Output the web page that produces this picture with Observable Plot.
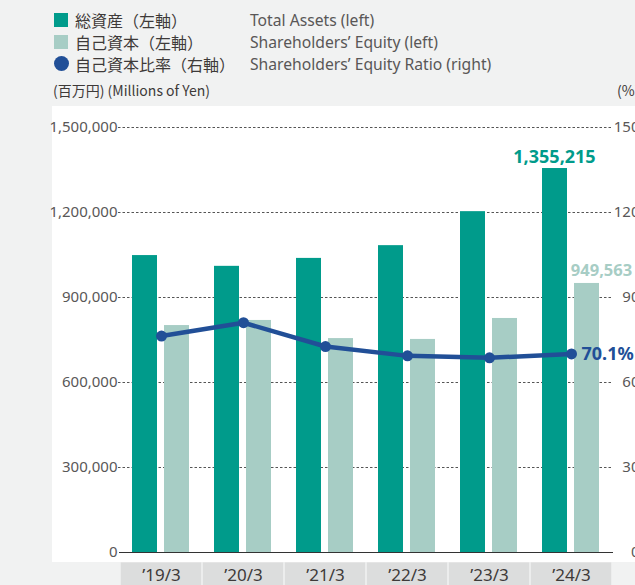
<!DOCTYPE html>
<html><head><meta charset="utf-8">
<script src="https://cdn.jsdelivr.net/npm/d3@7"></script>
<script src="https://cdn.jsdelivr.net/npm/@observablehq/plot@0.6"></script>
<style>
html,body{margin:0;padding:0;background:#f1f2f2;width:635px;height:585px;overflow:hidden;}
#root{position:relative;width:635px;height:585px;font-family:"Noto Sans","Noto Sans CJK JP",sans-serif;}
.panel{position:absolute;left:52px;top:106px;width:583px;height:456px;background:#fff;}
.leg{position:absolute;left:54px;width:560px;height:22px;line-height:22px;font-size:16px;color:#3e3a39;white-space:nowrap;}
.sw{position:absolute;left:0;top:4px;width:14px;height:14px;}
.jp{position:absolute;left:21px;top:0;font-family:"Noto Sans CJK JP",sans-serif;}
.en{position:absolute;left:196px;top:0;color:#595757;font-family:"Noto Sans",sans-serif;font-size:15.7px;}
.unit{position:absolute;top:79px;height:22px;line-height:22px;font-size:14px;color:#3e3a39;white-space:nowrap;font-family:"Noto Sans CJK JP",sans-serif;}
#chart{position:absolute;left:0;top:106px;}
</style>
</head><body>
<div id="root">
  <div class="panel"></div>
  <div class="leg" style="top:9px"><div class="sw" style="background:#009b8b"></div><span class="jp">総資産（左軸）</span><span class="en">Total Assets (left)</span></div>
  <div class="leg" style="top:31px"><div class="sw" style="background:#a7cdc5"></div><span class="jp">自己資本（左軸）</span><span class="en">Shareholders’ Equity (left)</span></div>
  <div class="leg" style="top:53px"><div class="sw" style="background:#214f97;border-radius:50%;width:15px;height:15px;top:3px"></div><span class="jp">自己資本比率（右軸）</span><span class="en">Shareholders’ Equity Ratio (right)</span></div>
  <div class="unit" style="left:53px">(百万円) (Millions of Yen)</div>
  <div class="unit" style="left:617px">(%)</div>
  <div id="chart"></div>
</div>
<script>
const years = ["’19/3","’20/3","’21/3","’22/3","’23/3","’24/3"];
const totalAssets = [1048000, 1010000, 1038000, 1083000, 1203000, 1355215];
const equity = [801000, 819000, 755000, 752000, 826000, 949563];
const equityRatio = [76.4, 81.1, 72.7, 69.4, 68.7, 70.1];
const leftTicks = [0, 300000, 600000, 900000, 1200000, 1500000];
const rightTicks = [0, 30, 60, 90, 120, 150];

const data = years.map((year, i) => ({year, assets: totalAssets[i], equity: equity[i], ratio: equityRatio[i]}));
const last = data[data.length - 1];
const fmt = d3.format(",");
const toLeft = r => r * 10000; // 150% on right axis = 1,500,000 on left axis

const plot = Plot.plot({
  width: 635, height: 479,
  marginLeft: 119, marginRight: 22, marginTop: 21, marginBottom: 33,
  style: {background: "transparent", fontFamily: "'Noto Sans', sans-serif", overflow: "visible"},
  x: {domain: years, padding: 0, label: null},
  y: {domain: [0, 1500000], label: null},
  marks: [
    Plot.barY(years, {x: d => d, y1: -36700, y2: -200000, fill: "#dcdddd", insetLeft: 0.8, insetRight: 0.8}),
    Plot.ruleY(leftTicks.slice(1), {stroke: "#555", strokeWidth: 1, strokeDasharray: "2.5,2", insetLeft: -1}),
    Plot.barY(data, {x: "year", y: "assets", fill: "#009b8b", insetLeft: 12, insetRight: 45}),
    Plot.barY(data, {x: "year", y: "equity", fill: "#a7cdc5", insetLeft: 44, insetRight: 13}),
    Plot.ruleY([0], {stroke: "#333", strokeWidth: 1.2}),
    Plot.lineY(data, {x: "year", y: d => toLeft(d.ratio), stroke: "#214f97", strokeWidth: 4.5}),
    Plot.dot(data, {x: "year", y: d => toLeft(d.ratio), r: 5.5, fill: "#214f97"}),
    Plot.axisY({anchor: "left", ticks: leftTicks, tickSize: 0, tickPadding: 2, tickFormat: d => fmt(d), fontSize: 15, color: "#595757"}),
    Plot.axisY({anchor: "right", ticks: rightTicks.map(toLeft), tickSize: 0, tickPadding: 26, textAnchor: "end", tickFormat: d => d / 10000, fontSize: 15, color: "#595757"}),
    Plot.axisX({anchor: "bottom", tickSize: 0, tickPadding: 16, fontSize: 17, color: "#3e3a39"}),
    Plot.text([last], {x: "year", y: "assets", text: d => fmt(d.assets), fill: "#009b8b", fontWeight: "bold", fontSize: 18, dx: -17, dy: -6, lineAnchor: "bottom"}),
    Plot.text([last], {x: "year", y: "equity", text: d => fmt(d.equity), fill: "#a7cdc5", fontWeight: "bold", fontSize: 16.5, dx: 30, dy: -7, lineAnchor: "bottom"}),
    Plot.text([last], {x: "year", y: d => toLeft(d.ratio), text: d => d.ratio.toFixed(1) + "%", fill: "#214f97", fontWeight: "bold", fontSize: 18, dx: 10, textAnchor: "start", lineAnchor: "middle"})
  ]
});
document.getElementById("chart").appendChild(plot);
</script>
</body></html>
